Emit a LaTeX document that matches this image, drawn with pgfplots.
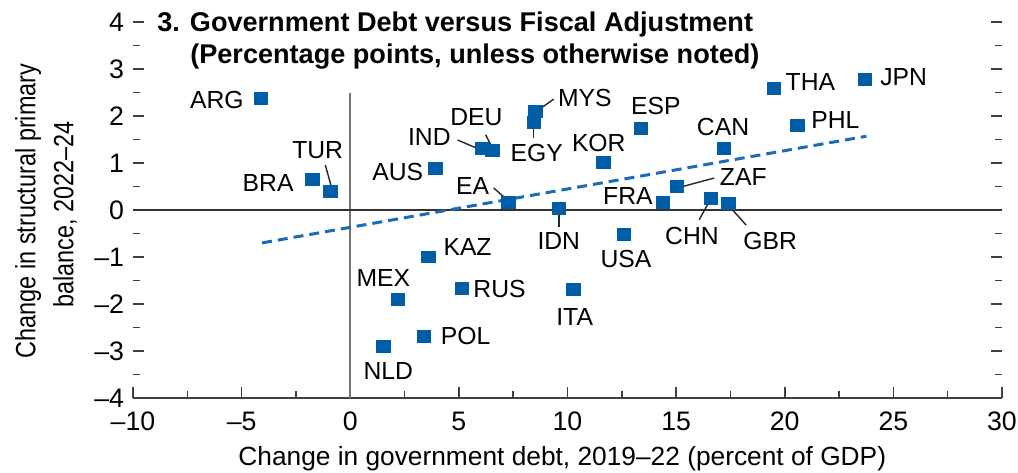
\documentclass[border=0pt]{standalone}
\usepackage{pgfplots}
\pgfplotsset{compat=1.18}
\usepackage{fontspec}
\setmainfont{Liberation Sans}
\newfontfamily\ylabfont{Liberation Sans}[FakeStretch=0.84]
\definecolor{impblue}{RGB}{0,94,168}
\definecolor{trendblue}{RGB}{25,108,182}
\begin{document}
\begin{tikzpicture}
\useasboundingbox (-66.5bp,-37.5bp) rectangle (442.5bp,199bp);
\begin{axis}[
  at={(0,0)}, anchor=south west, scale only axis,
  width=434.5bp, height=188bp,
  xmin=-10, xmax=30, ymin=-4, ymax=4,
  axis x line*=bottom, axis y line*=box,
  y axis line style={draw=none},
  x axis line style={draw=black!75, line width=0.8bp},
  xtick={-10,-5,...,30},
  xticklabels={–10,–5,0,5,10,15,20,25,30},
  ytick={-4,-3,...,4},
  yticklabels={–4,–3,–2,–1,0,1,2,3,4},
  minor x tick num=1, minor y tick num=1,
  tick align=inside,
  major tick length=5.5bp, minor tick length=3.5bp,
  tick style={draw=black!75, line width=0.8bp},
  ticklabel style={font=\fontsize{13.4}{15}\selectfont, text=black},
  xticklabel style={yshift=-3.5bp},
  yticklabel style={xshift=-1bp},
  clip=false,
]
% reference lines
\draw[black!55, line width=1bp] (axis cs:0,-4) -- (axis cs:0,2.48);
\draw[black!80, line width=1.1bp] (axis cs:-10,0) -- (axis cs:30,0);
% trend line
\addplot[trendblue, line width=1.5bp, dash pattern=on 5bp off 3bp] coordinates {(-4.06,-0.70) (23.76,1.57)};
% leader lines
\begin{scope}[black!85, line width=0.7bp]
\draw (axis cs:-1.15,0.96) -- (axis cs:-0.83,0.43);
\draw (axis cs:4.94,1.49) -- (axis cs:6.00,1.28);
\draw (axis cs:6.23,1.60) -- (axis cs:6.55,1.32);
\draw (axis cs:6.60,0.47) -- (axis cs:7.24,0.21);
\draw (axis cs:9.37,2.36) -- (axis cs:8.54,2.09);
\draw (axis cs:8.44,1.85) -- (axis cs:8.44,1.53);
\draw (axis cs:16.75,0.68) -- (axis cs:15.22,0.49);
\draw (axis cs:16.06,-0.21) -- (axis cs:16.56,0.21);
\draw (axis cs:17.39,0.11) -- (axis cs:18.22,-0.32);
\draw (axis cs:9.60,-0.06) -- (axis cs:9.60,-0.36);
\end{scope}
% points
\addplot[only marks, mark=square*, mark size=3.4bp, mark options={fill=impblue, draw=impblue, line width=0pt, yscale=0.88}] table {
x y
-4.10 2.38
-1.75 0.64
-0.92 0.40
3.92 0.89
6.09 1.30
6.55 1.26
7.29 0.17
8.54 2.09
8.45 1.87
9.60 0.04
11.67 1.02
13.38 1.74
12.60 -0.53
14.40 0.15
15.04 0.51
16.60 0.25
17.40 0.13
17.20 1.31
19.50 2.59
20.60 1.79
23.70 2.78
3.60 -1.00
2.20 -1.90
5.15 -1.66
3.40 -2.69
1.53 -2.91
10.27 -1.70
};
% labels
\begin{scope}[every node/.style={font=\fontsize{12.4}{14}\selectfont, text=black, inner sep=0pt, anchor=center}]
\node at (axis cs:-6.14,2.34) {ARG};
\node at (axis cs:-3.78,0.57) {BRA};
\node at (axis cs:-1.50,1.28) {TUR};
\node at (axis cs:2.19,0.80) {AUS};
\node at (axis cs:3.64,1.55) {IND};
\node at (axis cs:5.81,1.98) {DEU};
\node at (axis cs:5.63,0.51) {EA};
\node at (axis cs:10.80,2.38) {MYS};
\node at (axis cs:8.58,1.21) {EGY};
\node at (axis cs:11.44,1.43) {KOR};
\node at (axis cs:14.07,2.21) {ESP};
\node at (axis cs:17.16,1.77) {CAN};
\node at (axis cs:21.18,2.72) {THA};
\node at (axis cs:25.47,2.83) {JPN};
\node at (axis cs:22.33,1.91) {PHL};
\node at (axis cs:18.09,0.70) {ZAF};
\node at (axis cs:12.78,0.30) {FRA};
\node at (axis cs:15.73,-0.55) {CHN};
\node at (axis cs:19.33,-0.66) {GBR};
\node at (axis cs:9.60,-0.66) {IDN};
\node at (axis cs:12.69,-1.04) {USA};
\node at (axis cs:10.33,-2.28) {ITA};
\node at (axis cs:5.40,-0.79) {KAZ};
\node at (axis cs:1.52,-1.45) {MEX};
\node at (axis cs:6.87,-1.68) {RUS};
\node at (axis cs:5.31,-2.68) {POL};
\node at (axis cs:1.75,-3.43) {NLD};
\end{scope}
% title
\node[anchor=base west, inner sep=0pt, font=\bfseries\fontsize{13.6}{15}\selectfont] at (axis cs:-8.90,3.79) {3. Government Debt versus Fiscal Adjustment};
\node[anchor=base west, inner sep=0pt, font=\bfseries\fontsize{13.6}{15}\selectfont] at (axis cs:-7.38,3.11) {(Percentage points, unless otherwise noted)};
% axis labels
\node[anchor=base, inner sep=0pt, font=\fontsize{13.2}{15}\selectfont, text=black] at (axis cs:9.76,-5.43) {Change in government debt, 2019–22 (percent of GDP)};
\node[anchor=base, rotate=90, inner sep=0pt, font=\ylabfont\fontsize{14}{16}\selectfont, text=black] at (axis cs:-14.49,-0.02) {Change in structural primary};
\node[anchor=base, rotate=90, inner sep=0pt, font=\ylabfont\fontsize{14}{16}\selectfont, text=black] at (axis cs:-12.74,-0.10) {balance, 2022–24};
\end{axis}
\end{tikzpicture}
\end{document}
